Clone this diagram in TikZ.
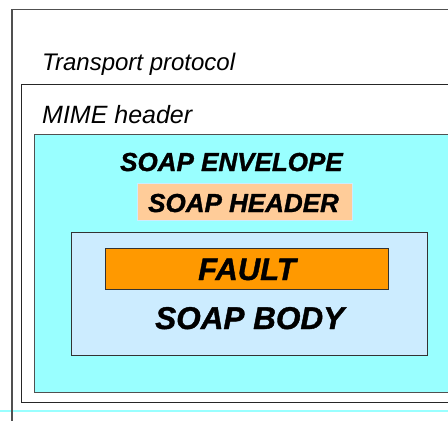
\documentclass[tikz,border=0pt]{standalone}
\usepackage{fontspec}
\setmainfont{Liberation Sans}
\newfontfamily\soapfont{Liberation Sans}[UprightFont={* Bold Italic}, FakeBold=1.2]
\definecolor{envcyan}{HTML}{99FFFF}
\definecolor{hdrpeach}{HTML}{FFCC99}
\definecolor{bodyblue}{HTML}{CCECFF}
\definecolor{faultorange}{HTML}{FF9900}
\definecolor{edgegray}{HTML}{505050}
\tikzset{
  box/.style={draw=edgegray, line width=1.3pt, inner sep=0pt, anchor=north west},
  lbl/.style={inner sep=0pt, anchor=base west},
}
\begin{document}
\begin{tikzpicture}[x=1pt,y=-1pt]
\useasboundingbox (0,0) rectangle (448,421);
\clip (0,0) rectangle (448,421);
\fill[white] (0,0) rectangle (448,421);
% outer transport box (extends beyond frame)
\node[box, minimum width=460pt, minimum height=430pt] (transport) at (12,9) {};
% MIME box
\node[box, draw=black!85, minimum width=450pt, minimum height=317.5pt] (mime) at (21,84) {};
% envelope
\node[box, fill=envcyan, minimum width=440pt, minimum height=257.5pt] (env) at (34,134) {};
% light cyan rule near the bottom
\coordinate (ruleL) at (0,411);
\coordinate (ruleR) at (448,411);
\draw[envcyan, line width=2pt] (ruleL) -- (ruleR);
\draw[edgegray, line width=1.3pt] (12,9) -- (12,421);
% header
\node[box, draw=bodyblue, line width=0.8pt, fill=hdrpeach, minimum width=215pt, minimum height=37pt] (hdr) at (137,183) {};
% body
\node[box, draw=black!80, fill=bodyblue, minimum width=356pt, minimum height=123pt] (body) at (71,232) {};
% fault
\node[box, draw=black!80, fill=faultorange, minimum width=283pt, minimum height=41pt] (fault) at (105,248) {};
% texts
\node[lbl, font=\fontsize{24}{28}\selectfont\itshape] (ttransport) at (42,70) {Transport protocol};
\node[lbl, font=\fontsize{25}{29}\selectfont\itshape] (tmime) at (42,123) {MIME header};
\node[lbl, font=\soapfont\fontsize{26}{30}\selectfont] (tenv) at (120,171) {SOAP ENVELOPE};
\node[lbl, font=\soapfont\fontsize{26}{30}\selectfont] (thdr) at (148,212) {SOAP HEADER};
\node[lbl, font=\soapfont\fontsize{31}{35}\selectfont] (tfault) at (198,280) {FAULT};
\node[lbl, font=\soapfont\fontsize{31.5}{35}\selectfont] (tbody) at (155,329) {SOAP BODY};
\end{tikzpicture}
\end{document}
